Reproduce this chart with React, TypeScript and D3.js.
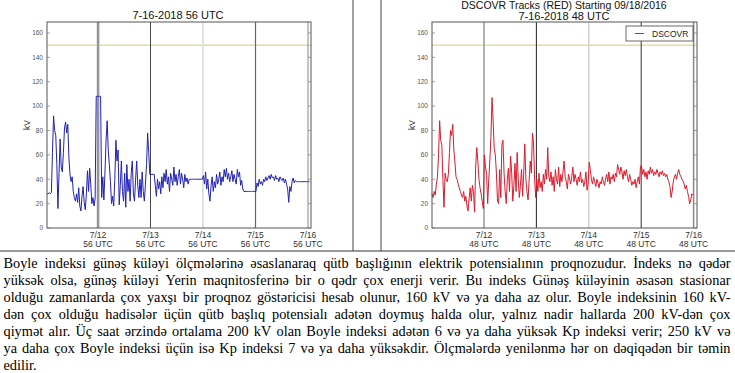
import React, { useEffect, useRef } from 'react';
import * as d3 from 'd3';

// Boyle index (kV), one value per 30 min
const blueStart = 0.029; // days after 7/11 00 UTC
const blueValues = [
  28, 28, 29, 28, 29, 62, 92, 80, 76, 52, 16, 45,
  73, 50, 46, 62, 82, 87, 78, 85, 58, 44, 38, 42,
  30, 25, 22, 28, 21, 33, 18, 14, 26, 34, 21, 15,
  28, 47, 30, 49, 36, 20, 25, 18, 24, 108, 108, 108,
  108, 108, 25, 42, 23, 46, 72, 88, 64, 52, 38, 20,
  26, 18, 40, 72, 55, 64, 19, 35, 55, 30, 22, 45,
  17, 52, 30, 40, 22, 45, 55, 28, 22, 40, 55, 35,
  25, 40, 25, 46, 30, 22, 36, 52, 78, 62, 44, 44,
  44, 44, 44, 35, 26, 40, 32, 38, 28, 42, 33, 45,
  38, 48, 36, 42, 30, 45, 40, 35, 50, 38, 44, 35,
  42, 48, 36, 45, 40, 33, 44, 38, 41, 36, 40, 40,
  40, 40, 40, 40, 40, 40, 40, 40, 40, 40, 40, 43,
  36, 46, 32, 40, 28, 22, 35, 42, 30, 38, 33, 44,
  36, 40, 46, 35, 42, 38, 48, 42, 49, 40, 45, 38,
  42, 47, 38, 44, 40, 36, 48, 42, 46, 35, 39, 32,
  30, 30, 30, 30, 30, 30, 30, 30, 30, 30, 30, 30,
  37, 34, 40, 36, 38, 35, 40, 38, 42, 39, 41, 43,
  40, 44, 41, 42, 39, 43, 40, 41, 38, 42, 40, 39,
  41, 37, 40, 36, 32, 21, 34, 30, 38, 41, 37, 39,
  38, 38, 38, 38, 38, 38, 38, 38, 38, 38, 38, 38, 38,
];

const redStart = 0.008;
const redValues = [
  28, 25, 30, 27, 36, 42, 60, 88, 72, 68, 40, 17,
  45, 40, 38, 44, 62, 80, 76, 85, 64, 54, 42, 40,
  36, 33, 30, 27, 25, 30, 22, 26, 18, 14, 24, 33,
  22, 35, 30, 13, 50, 66, 55, 40, 33, 28, 22, 16,
  60, 50, 44, 20, 40, 56, 75, 107, 88, 65, 60, 45,
  22, 20, 48, 25, 68, 72, 45, 30, 20, 40, 49, 30,
  59, 45, 22, 35, 53, 30, 62, 40, 25, 35, 48, 26,
  45, 69, 40, 30, 23, 40, 55, 45, 78, 70, 40, 25,
  40, 30, 45, 33, 38, 30, 44, 36, 48, 40, 66, 42,
  38, 46, 35, 42, 30, 48, 40, 36, 50, 34, 44, 38,
  46, 55, 42, 38, 32, 44, 40, 36, 42, 50, 38, 44,
  40, 35, 42, 38, 46, 37, 40, 34, 38, 46, 31, 36,
  54, 48, 40, 36, 42, 38, 34, 40, 37, 33, 38, 36,
  42, 38, 35, 40, 44, 38, 46, 36, 42, 40, 44, 38,
  45, 42, 52, 48, 44, 50, 46, 40, 47, 43, 48, 42,
  38, 44, 40, 35, 38, 36, 40, 33, 38, 42, 36, 51,
  50, 44, 48, 42, 46, 40, 47, 44, 50, 45, 48, 43,
  46, 44, 48, 45, 42, 46, 44, 47, 43, 45, 42, 44,
  40, 38, 34, 25, 30, 38, 42, 44, 40, 45, 48, 44,
  42, 40, 38, 36, 32, 35, 30, 26, 20, 23, 28, 27,
];

const dayTicks = [1, 2, 3, 4, 5];
const dayLabels = ['7/12', '7/13', '7/14', '7/15', '7/16'];
const yTicks = [0, 20, 40, 60, 80, 100, 120, 140, 160];
const threshold = 150;

const paragraphLines = [
  'Boyle indeksi günəş küləyi ölçmələrinə əsaslanaraq qütb başlığının elektrik potensialının proqnozudur. İndeks nə qədər',
  'yüksək olsa, günəş küləyi Yerin maqnitosferinə bir o qədr çox enerji verir. Bu indeks Günəş küləyinin əsasən stasionar',
  'olduğu zamanlarda çox yaxşı bir proqnoz göstəricisi hesab olunur, 160 kV və ya daha az olur. Boyle indeksinin 160 kV-',
  'dən çox olduğu hadisələr üçün qütb başlıq potensialı adətən doymuş halda olur, yalnız nadir hallarda 200 kV-dən çox',
  'qiymət alır. Üç saat ərzində ortalama 200 kV olan Boyle indeksi adətən 6 və ya daha yüksək Kp indeksi verir; 250 kV və',
  'ya daha çox Boyle indeksi üçün isə Kp indeksi 7 və ya daha yüksəkdir. Ölçmələrdə yenilənmə hər on dəqiqədən bir təmin',
  'edilir.',
];

const SANS = '"Liberation Sans", Arial, Helvetica, sans-serif';
const SERIF = '"Liberation Serif", "Times New Roman", serif';

const App = () => {
  const svgRef = useRef(null);

  useEffect(() => {
    const svg = d3.select(svgRef.current);
    svg.selectAll('*').remove();

    const top = 22, bottom = 228;

    const drawPanel = (opts) => {
      const { left, right, domain, start, values, color, stamp, dayStyles, kvX } = opts;
      const g = svg.append('g');
      const x = d3.scaleLinear().domain(domain).range([left, right]);
      const y = d3.scaleLinear().domain([0, 169]).range([bottom, top]);

      // threshold line
      g.append('line')
        .attr('x1', left).attr('x2', right)
        .attr('y1', y(threshold)).attr('y2', y(threshold))
        .attr('stroke', '#e4dea2').attr('stroke-width', 1.5);

      // day lines
      dayTicks.forEach((d, i) => {
        const s = dayStyles[i];
        if (s.band) {
          g.append('rect')
            .attr('x', x(d) - 1.5).attr('y', top)
            .attr('width', 3.5).attr('height', bottom - top)
            .attr('fill', s.band);
        }
        g.append('line')
          .attr('x1', x(d)).attr('x2', x(d))
          .attr('y1', top).attr('y2', bottom)
          .attr('stroke', s.color).attr('stroke-width', s.width);
      });

      // data
      const line = d3.line()
        .x((v, i) => x(start + i / 48))
        .y(v => y(v));
      g.append('path')
        .datum(values)
        .attr('fill', 'none')
        .attr('stroke', color)
        .attr('stroke-width', 1)
        .attr('stroke-linejoin', 'round')
        .attr('d', line);

      // frame
      g.append('rect')
        .attr('x', left).attr('y', top)
        .attr('width', right - left).attr('height', bottom - top)
        .attr('fill', 'none').attr('stroke', '#555').attr('stroke-width', 1);

      // y ticks
      yTicks.forEach(t => {
        g.append('line')
          .attr('x1', left).attr('x2', left + 3)
          .attr('y1', y(t)).attr('y2', y(t))
          .attr('stroke', '#777').attr('stroke-width', 0.7);
        g.append('line')
          .attr('x1', right - 3).attr('x2', right)
          .attr('y1', y(t)).attr('y2', y(t))
          .attr('stroke', '#777').attr('stroke-width', 0.7);
        g.append('text')
          .attr('x', left - 4).attr('y', y(t) + 2.3)
          .attr('text-anchor', 'end')
          .style('font-family', SANS).style('font-size', '6.5px')
          .style('fill', '#555')
          .text(t);
      });

      g.append('text')
        .attr('transform', `translate(${kvX},125) rotate(-90)`)
        .attr('text-anchor', 'middle')
        .style('font-family', SANS).style('font-size', '8.5px')
        .style('fill', '#222')
        .text('kV');

      // x labels
      dayTicks.forEach((d, i) => {
        g.append('text')
          .attr('x', x(d)).attr('y', 238)
          .attr('text-anchor', 'middle')
          .style('font-family', SANS).style('font-size', '8.5px')
          .style('fill', '#333')
          .text(dayLabels[i]);
        g.append('text')
          .attr('x', x(d)).attr('y', 247)
          .attr('text-anchor', 'middle')
          .style('font-family', SANS).style('font-size', '8.5px')
          .style('fill', '#333')
          .text(`${stamp} UTC`);
      });

      return { g, x, y };
    };

    const leftPanel = drawPanel({
      left: 47, right: 311, domain: [0.029, 5.057],
      start: blueStart, values: blueValues, color: '#2222b4', stamp: '56', kvX: 30,
      dayStyles: [
        { color: '#555', width: 1, band: '#d4d4dc' },
        { color: '#444', width: 1 },
        { color: '#d8d8d8', width: 1.5 },
        { color: '#666', width: 1.2 },
        { color: '#888', width: 1 },
      ],
    });
    leftPanel.g.append('text')
      .attr('x', 178).attr('y', 19)
      .attr('text-anchor', 'middle')
      .style('font-family', SANS).style('font-size', '11px')
      .style('fill', '#111')
      .text('7-16-2018 56 UTC');

    const rightPanel = drawPanel({
      left: 432, right: 697, domain: [0.008, 5.065],
      start: redStart, values: redValues, color: '#de1a2c', stamp: '48', kvX: 415,
      dayStyles: [
        { color: '#999', width: 1.5 },
        { color: '#222', width: 1 },
        { color: '#d2d2d2', width: 1.5 },
        { color: '#333', width: 1 },
        { color: '#888', width: 1.5 },
      ],
    });
    rightPanel.g.append('text')
      .attr('x', 564).attr('y', 9)
      .attr('text-anchor', 'middle')
      .style('font-family', SANS).style('font-size', '10.5px')
      .style('fill', '#111')
      .text('DSCOVR Tracks (RED) Starting 09/18/2016');
    rightPanel.g.append('text')
      .attr('x', 564).attr('y', 19.5)
      .attr('text-anchor', 'middle')
      .style('font-family', SANS).style('font-size', '11px')
      .style('fill', '#111')
      .text('7-16-2018 48 UTC');

    // legend
    const legend = rightPanel.g.append('g');
    legend.append('rect')
      .attr('x', 626).attr('y', 26).attr('width', 67).attr('height', 15)
      .attr('fill', '#fff').attr('stroke', '#444').attr('stroke-width', 0.8);
    legend.append('line')
      .attr('x1', 635).attr('x2', 644).attr('y1', 33.5).attr('y2', 33.5)
      .attr('stroke', '#de1a2c').attr('stroke-width', 1);
    legend.append('text')
      .attr('x', 652).attr('y', 36.5)
      .style('font-family', SANS).style('font-size', '8.5px')
      .style('fill', '#222')
      .text('DSCOVR');

    // table borders
    svg.append('line')
      .attr('x1', 0).attr('x2', 735).attr('y1', 251).attr('y2', 251)
      .attr('stroke', '#333').attr('stroke-width', 1);
    [353, 381].forEach(bx => {
      svg.append('line')
        .attr('x1', bx).attr('x2', bx).attr('y1', 0).attr('y2', 251)
        .attr('stroke', '#444').attr('stroke-width', 1);
    });

    // justified paragraph
    const textLeft = 3.5, textRight = 730.5;
    paragraphLines.forEach((ln, li) => {
      const words = ln.split(' ');
      const baseY = 268 + li * 17;
      const nodes = words.map(w => svg.append('text')
        .attr('y', baseY)
        .style('font-family', SERIF).style('font-size', '14.3px')
        .style('fill', '#000')
        .text(w));
      const widths = nodes.map(n => n.node().getComputedTextLength());
      const total = d3.sum(widths);
      const last = li === paragraphLines.length - 1;
      const gap = last || words.length < 2 ? 3.6 : (textRight - textLeft - total) / (words.length - 1);
      let cx = textLeft;
      nodes.forEach((n, i) => {
        n.attr('x', cx);
        cx += widths[i] + gap;
      });
    });
  }, []);

  return (
    <div style={{ position: 'absolute', left: 0, top: 0, width: 735, height: 373, background: '#fff' }}>
      <svg ref={svgRef} width={735} height={373} style={{ display: 'block' }}></svg>
    </div>
  );
};

export default App;
